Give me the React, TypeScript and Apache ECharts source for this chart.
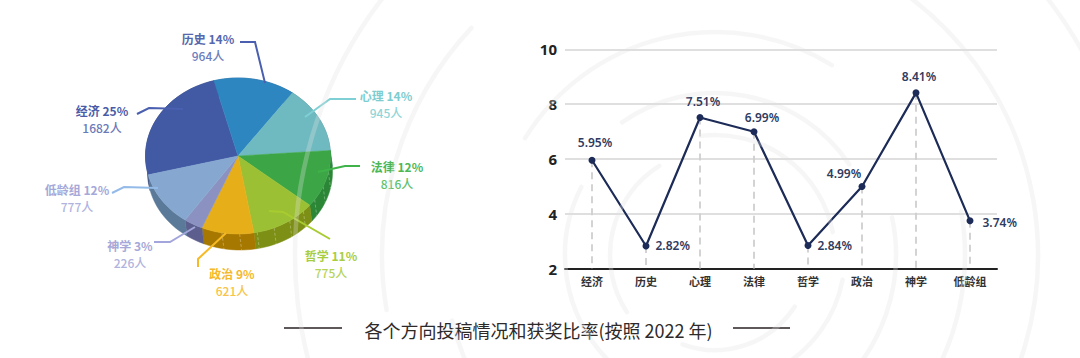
import React, { useEffect, useRef } from "react";
import * as echarts from "echarts";

const pieNames = ["经济", "历史", "心理", "法律", "哲学", "政治", "神学", "低龄组"];
const pieCounts = [1682, 964, 945, 816, 775, 621, 226, 777];
const piePercents = [25, 14, 14, 12, 11, 9, 3, 12];
const topColors = ["#425aa4", "#2e86c1", "#6fbac0", "#3ca646", "#9cc033", "#e6ae18", "#8b92c2", "#86a8d0"];
const wallColors = ["#2f4078", "#1f5f8a", "#4f868a", "#2b8736", "#7d8f14", "#a67800", "#5c5f8e", "#5b7a99"];
const labelColors = ["#4a5ca8", "#5568ae", "#7dcdd0", "#4db755", "#a8cd3e", "#f5b82a", "#a5a8d8", "#a5a8d8"];
const subColors = ["#6a7ab8", "#6c7dbc", "#8fd5d8", "#62c26a", "#b5d458", "#f7c34a", "#b0b3de", "#b0b3de"];
const leaderColors = ["#4a5fb0", "#4a5fb0", "#7fd0d4", "#3fb34a", "#a8cc30", "#f7b924", "#a3a6dc", "#94bbe8"];

// label centre and leader-line layout (page pixels), same order as pieNames
const labelCentres = [[102, 110], [208, 38], [386, 95], [397, 166], [331, 255], [232, 273], [130, 245], [77, 189]];
const leaderPaths = [
  [[137, 114], [149, 108], [183, 109]],
  [[240, 42], [255, 42], [265, 83]],
  [[356, 99], [330, 99], [305, 117]],
  [[360, 166], [345, 166], [318, 172]],
  [[330, 239], [283, 212], [269, 211]],
  [[198, 267], [198, 259], [226, 233]],
  [[154, 242], [170, 242], [195, 227]],
  [[112, 193], [124, 187], [158, 188]],
];

const lineCategories = ["经济", "历史", "心理", "法律", "哲学", "政治", "神学", "低龄组"];
const lineValues = [5.95, 2.82, 7.51, 6.99, 2.84, 4.99, 8.41, 3.74];
const lineLabelPlacement: any[] = [
  { position: "top", distance: 8, offset: [3, 0] },
  { position: "right", distance: 6, offset: [0, -1] },
  { position: "top", distance: 7, offset: [3, 0] },
  { position: "top", distance: 5, offset: [8, 0] },
  { position: "right", distance: 6, offset: [0, 0] },
  { position: "top", distance: 4, offset: [-18, 0] },
  { position: "top", distance: 7, offset: [3, 0] },
  { position: "right", distance: 9, offset: [0, 2] },
];

// background rings: radius, start degree, end degree (clockwise from +x)
const rings = [
  [420, 150, 345],
  [333, 170.5, 223],
  [323, 300, 400],
  [271, 140, 166],
  [223, 211.6, 301.6],
  [162, 235, 326],
  [150, 135, 207],
  [105, 147, 238],
  [120, 263, 349],
  [181, 348, 410],
  [130, 11, 60],
  [95, 33, 110],
  [250, 350, 395],
];

const CX = 238, CY = 156, RX = 92.5, RY = 78, WALL_DX = 2, WALL_DY = 16, START_DEG = 256;
const total = pieCounts.reduce((a, b) => a + b, 0);
const PIE_FONT = '"Noto Sans CJK SC", "Noto Sans", sans-serif';

const edge = (deg: number, dx = 0, dy = 0) => {
  const t = (deg * Math.PI) / 180;
  return [CX + RX * Math.sin(t) + dx, CY - RY * Math.cos(t) + dy];
};
const sliceRange = (i: number) => {
  let a = START_DEG;
  for (let k = 0; k < i; k++) a += (pieCounts[k] / total) * 360;
  return [a, a + (pieCounts[i] / total) * 360];
};
const arcPts = (a: number, b: number, dx = 0, dy = 0) => {
  const n = Math.max(2, Math.ceil((b - a) / 3));
  const pts: number[][] = [];
  for (let k = 0; k <= n; k++) pts.push(edge(a + ((b - a) * k) / n, dx, dy));
  return pts;
};

const renderWall = (p: any) => {
  const i = p.dataIndex;
  const [a, b] = sliceRange(i);
  const top = arcPts(a, b);
  const bottom = arcPts(a, b, WALL_DX, WALL_DY).reverse();
  const children: any[] = [
    { type: "polygon", shape: { points: top.concat(bottom) }, style: { fill: wallColors[i], stroke: wallColors[i], lineWidth: 0.5 } },
  ];
  for (let d = Math.ceil(a / 11) * 11; d < b; d += 11) {
    const nd = ((d % 360) + 360) % 360;
    if (nd < 100 || nd > 195) continue;
    const s = edge(d), e = edge(d, WALL_DX, WALL_DY);
    children.push({
      type: "line",
      shape: { x1: s[0], y1: s[1], x2: e[0], y2: e[1] },
      style: { stroke: "rgba(255,255,255,0.3)", lineWidth: 1, lineDash: [3, 2] },
    });
  }
  return { type: "group", children };
};

const renderTop = (p: any) => {
  const i = p.dataIndex;
  const [a, b] = sliceRange(i);
  const pts = [[CX, CY], ...arcPts(a, b)];
  return { type: "polygon", shape: { points: pts }, style: { fill: topColors[i], stroke: topColors[i], lineWidth: 0.5 } };
};

const renderLabel = (p: any) => {
  const i = p.dataIndex;
  const [x, y] = labelCentres[i];
  return {
    type: "group",
    children: [
      { type: "polyline", shape: { points: leaderPaths[i] }, style: { fill: "none", stroke: leaderColors[i], lineWidth: 2 } },
      {
        type: "text", x, y,
        style: { text: `${pieNames[i]} ${piePercents[i]}%`, fill: labelColors[i], font: `600 12px ${PIE_FONT}`, align: "center", verticalAlign: "middle" },
      },
      {
        type: "text", x, y: y + 17,
        style: { text: `${pieCounts[i]}人`, fill: subColors[i], font: `500 12px ${PIE_FONT}`, align: "center", verticalAlign: "middle" },
      },
    ],
  };
};

export default function App() {
  const ref = useRef<HTMLDivElement>(null);
  useEffect(() => {
    const chart = echarts.init(ref.current!, null, { renderer: "svg" });
    const rad = (d: number) => (d * Math.PI) / 180;
    chart.setOption({
      animation: false,
      backgroundColor: "#ffffff",
      title: {
        text: "各个方向投稿情况和获奖比率(按照 2022 年)",
        left: 533.5,
        top: 316,
        textAlign: "center",
        textStyle: { fontFamily: PIE_FONT, fontSize: 18, fontWeight: 400, color: "#2e2a2a" },
      },
      grid: { left: 565, right: 83, top: 49.3, bottom: 89.5 },
      xAxis: {
        type: "category",
        data: lineCategories,
        axisLine: { lineStyle: { color: "#222222", width: 2 } },
        axisTick: { show: false },
        axisLabel: { margin: 7, fontFamily: PIE_FONT, fontSize: 11, fontWeight: 600, color: "#333333" },
      },
      yAxis: {
        type: "value",
        min: 2,
        max: 10,
        interval: 2,
        axisLine: { show: false },
        axisTick: { show: false },
        axisLabel: { margin: 8, fontFamily: "Noto Sans", fontSize: 15, fontWeight: 700, color: "#222222" },
        splitLine: { lineStyle: { color: "#d5d5d5", width: 1.5 } },
      },
      series: [
        {
          type: "line",
          data: lineValues.map((v, i) => ({
            value: v,
            label: { show: true, ...lineLabelPlacement[i] },
          })),
          symbol: "circle",
          symbolSize: 7,
          z: 5,
          lineStyle: { color: "#1c2b57", width: 2.2 },
          itemStyle: { color: "#1c2b57" },
          label: {
            show: true,
            formatter: (p: any) => `${p.value.toFixed(2)}%`,
            fontFamily: "Noto Sans",
            fontSize: 12,
            fontWeight: 600,
            color: "#2f3b5f",
          },
          markLine: {
            silent: true,
            symbol: "none",
            label: { show: false },
            lineStyle: { type: [7, 5], color: "#cfcfcf", width: 1.8 },
            data: lineValues.map((v, i) => [
              { coord: [i, v] },
              { coord: [i, 2] },
            ]),
          },
        },
        { type: "custom", coordinateSystem: "none", renderItem: renderWall, data: pieCounts, z: 1, silent: true },
        { type: "custom", coordinateSystem: "none", renderItem: renderTop, data: pieCounts, z: 2, silent: true },
        { type: "custom", coordinateSystem: "none", renderItem: renderLabel, data: pieCounts, z: 3, silent: true },
      ],
      graphic: [
        { type: "line", silent: true, z: 10, shape: { x1: 284, y1: 328, x2: 342, y2: 328 }, style: { stroke: "#2a2020", lineWidth: 1.5 } },
        { type: "line", silent: true, z: 10, shape: { x1: 733, y1: 328, x2: 790, y2: 328 }, style: { stroke: "#2a2020", lineWidth: 1.5 } },
        ...rings.map(([r, s, e]) => ({
          type: "arc",
          silent: true,
          z: 100,
          shape: { cx: 715, cy: 255, r, startAngle: rad(s), endAngle: rad(e), clockwise: true },
          style: { fill: "none", stroke: "rgba(225,225,225,0.3)", lineWidth: 4.5, lineCap: "round" },
        })),
      ],
    });
    return () => chart.dispose();
  }, []);
  return <div ref={ref} style={{ position: "fixed", left: 0, top: 0, width: 1080, height: 358 }} />;
}
